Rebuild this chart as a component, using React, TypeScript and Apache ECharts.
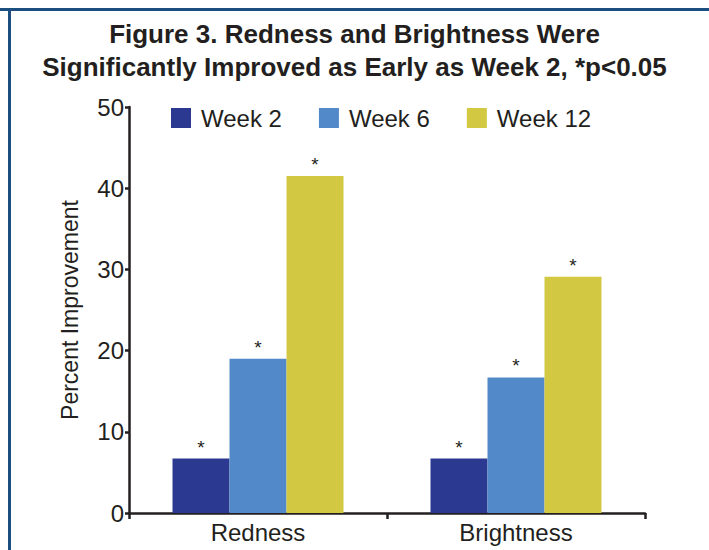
import React, { useEffect, useRef } from "react";
import * as echarts from "echarts";

const categories = ["Redness", "Brightness"];
const seriesNames = ["Week 2", "Week 6", "Week 12"];
const week2 = [6.7, 6.7];
const week6 = [19.0, 16.7];
const week12 = [41.5, 29.1];
const yTicks = [0, 10, 20, 30, 40, 50];
const colors = ["#2b3990", "#5289c8", "#d2c842"];

export default function App() {
  const ref = useRef<HTMLDivElement>(null);
  useEffect(() => {
    if (!ref.current) return;
    const chart = echarts.init(ref.current, undefined, { renderer: "svg" });
    const dark = "#231f20";
    const font = "'Liberation Sans', Arial, sans-serif";
    const data = [week2, week6, week12];
    chart.setOption({
      animation: false,
      backgroundColor: "#ffffff",
      title: {
        text: "Figure 3. Redness and Brightness Were\nSignificantly Improved as Early as Week 2, *p<0.05",
        left: "center",
        top: 12,
        textStyle: {
          fontFamily: font,
          fontWeight: "bold",
          fontSize: 26,
          lineHeight: 33,
          color: dark,
        },
      },
      legend: {
        top: 101,
        left: 166,
        itemWidth: 20,
        itemHeight: 20,
        itemGap: 37,
        icon: "rect",
        data: seriesNames,
        textStyle: {
          fontFamily: font,
          fontSize: 24,
          color: dark,
          padding: [0, 0, 0, 5],
        },
      },
      grid: {
        left: 129,
        right: 64,
        top: 107,
        bottom: 37,
        containLabel: false,
      },
      xAxis: {
        type: "category",
        data: categories,
        axisLine: { lineStyle: { color: dark, width: 2.5 } },
        axisTick: { show: true, alignWithLabel: false, length: 6, lineStyle: { color: dark, width: 2.5 } },
        axisLabel: { fontFamily: font, fontSize: 24, color: dark, margin: 7 },
      },
      yAxis: {
        type: "value",
        min: yTicks[0],
        max: yTicks[yTicks.length - 1],
        interval: 10,
        name: "Percent Improvement",
        nameLocation: "middle",
        nameGap: 48,
        nameTextStyle: { fontFamily: font, fontSize: 23, color: dark },
        splitLine: { show: false },
        axisLine: { show: true, lineStyle: { color: dark, width: 2.5 } },
        axisTick: { show: true, length: 4, lineStyle: { color: dark, width: 2.5 } },
        axisLabel: { fontFamily: font, fontSize: 24, color: dark, margin: 5 },
      },
      series: seriesNames.map((name, i) => ({
        name,
        type: "bar",
        data: data[i],
        barWidth: 57,
        barGap: "0%",
        itemStyle: { color: colors[i] },
        label: {
          show: true,
          position: "top",
          formatter: "*",
          distance: 2,
          fontFamily: font,
          fontSize: 19,
          color: dark,
        },
      })),
      graphic: [
        { type: "rect", shape: { x: 0, y: 8, width: 709, height: 3 }, style: { fill: "#1c4f80" } },
        { type: "rect", shape: { x: 8, y: 8, width: 3, height: 542 }, style: { fill: "#1c4f80" } },
      ],
    });
    return () => chart.dispose();
  }, []);
  return <div ref={ref} style={{ width: 709, height: 550, position: "absolute", left: 0, top: 0 }} />;
}
